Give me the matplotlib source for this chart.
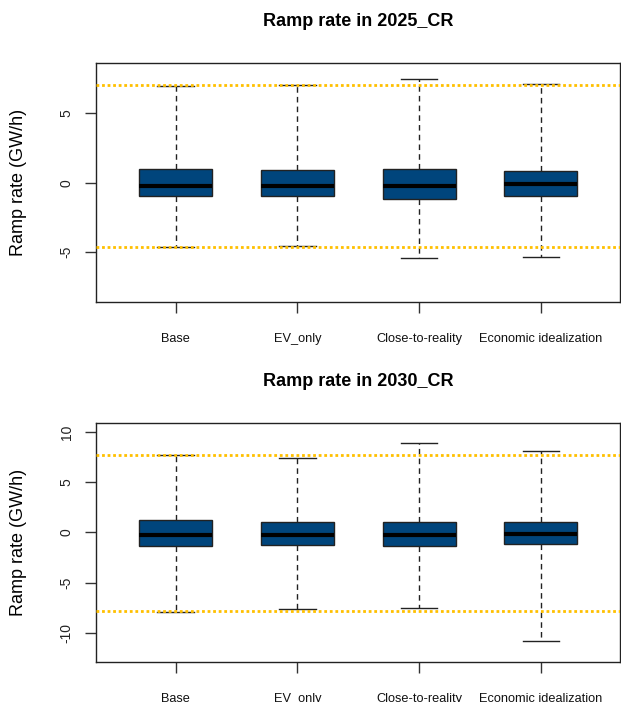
import matplotlib
matplotlib.use('Agg')
import matplotlib.pyplot as plt

plt.rcParams['font.family'] = ['Liberation Sans', 'DejaVu Sans']

categories = ['Base', 'EV_only', 'Close-to-reality', 'Economic idealization']
titles = ['Ramp rate in 2025_CR', 'Ramp rate in 2030_CR']
ylabel = 'Ramp rate (GW/h)'

# 2025_CR box statistics (GW/h)
q1_2025 = [-0.98, -0.96, -1.15, -0.94]
med_2025 = [-0.22, -0.22, -0.24, -0.12]
q3_2025 = [0.97, 0.89, 0.97, 0.84]
wlo_2025 = [-4.66, -4.59, -5.45, -5.38]
whi_2025 = [7.00, 7.02, 7.50, 7.09]
ref_2025 = [7.02, -4.64]
yticks_2025 = [-5, 0, 5]
ylim_2025 = (-8.6, 8.63)

# 2030_CR box statistics (GW/h)
q1_2030 = [-1.32, -1.22, -1.32, -1.16]
med_2030 = [-0.27, -0.27, -0.30, -0.13]
q3_2030 = [1.19, 1.06, 1.06, 1.06]
wlo_2030 = [-7.92, -7.62, -7.52, -10.85]
whi_2030 = [7.73, 7.40, 8.93, 8.06]
ref_2030 = [7.70, -7.82]
yticks_2030 = [-10, -5, 0, 5, 10]
ylim_2030 = (-12.9, 10.89)

panels = [
    (q1_2025, med_2025, q3_2025, wlo_2025, whi_2025, ref_2025, yticks_2025, ylim_2025),
    (q1_2030, med_2030, q3_2030, wlo_2030, whi_2030, ref_2030, yticks_2030, ylim_2030),
]

W, H = 621, 702
fig = plt.figure(figsize=(W / 100, H / 100), dpi=100)

axes_px = [(96, 63, 620, 302), (96, 423, 620, 662)]

box_color = '#00457C'
line_color = '#FFC000'

for i, (q1, med, q3, wlo, whi, ref, yt, yl) in enumerate(panels):
    l, t, r, b = axes_px[i]
    ax = fig.add_axes([l / W, 1 - b / H, (r - l) / W, (b - t) / H])
    stats = []
    for k, name in enumerate(categories):
        stats.append(dict(med=med[k], q1=q1[k], q3=q3[k], whislo=wlo[k],
                          whishi=whi[k], fliers=[], label=name))
    pos = list(range(1, len(categories) + 1))
    ax.bxp(stats, positions=pos, widths=0.6, patch_artist=True,
           showfliers=False,
           boxprops=dict(facecolor=box_color, edgecolor='#222222', linewidth=1.0),
           medianprops=dict(color='black', linewidth=3.0, solid_capstyle='butt'),
           whiskerprops=dict(color='#222222', linewidth=1.0, linestyle=(0, (4, 3))),
           capprops=dict(color='#222222', linewidth=1.0),
           capwidths=0.3)
    for v in ref:
        ax.axhline(v, color=line_color, linewidth=2.0,
                   linestyle=(0, (1.0, 1.0)), zorder=5)
    ax.set_xlim(0.345, 4.651)
    ax.set_ylim(*yl)
    ax.set_yticks(yt)
    ax.set_yticklabels([str(v) for v in yt], rotation=90, va='center',
                       fontsize=10, color='#222222')
    ax.set_xticks(pos)
    ax.set_xticklabels(categories, fontsize=9.2, color='#111111')
    ax.tick_params(axis='both', length=8, width=1, color='#333333')
    ax.tick_params(axis='y', pad=8)
    ax.tick_params(axis='x', pad=14)
    for s in ax.spines.values():
        s.set_linewidth(1.0)
        s.set_color('#222222')
    ax.set_title(titles[i], fontsize=13, fontweight='bold', pad=27)
    ax.set_ylabel(ylabel, fontsize=13, va='center')
    ax.yaxis.set_label_coords(-0.147, 0.5)

fig.savefig('out.png', dpi=100)
